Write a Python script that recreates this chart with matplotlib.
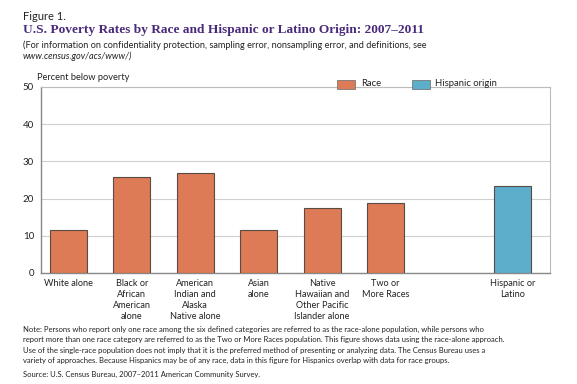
import matplotlib
matplotlib.use('Agg')
import matplotlib.pyplot as plt
import numpy as np

# data
categories = ['White alone', 'Black or\nAfrican\nAmerican\nalone', 'American\nIndian and\nAlaska\nNative alone',
              'Asian\nalone', 'Native\nHawaiian and\nOther Pacific\nIslander alone', 'Two or\nMore Races',
              'Hispanic or\nLatino']
rates = [11.6, 25.9, 27.0, 11.6, 17.6, 18.7, 23.3]
positions = [0, 1, 2, 3, 4, 5, 7]
groups = ['race', 'race', 'race', 'race', 'race', 'race', 'hispanic']

orange = '#dc7b55'
blue = '#5daecb'
purple = '#4a2a7a'

plt.rcParams['font.family'] = ['Lato', 'DejaVu Sans']

W, H = 577, 384
fig = plt.figure(figsize=(W / 100, H / 100), dpi=100)

def fx(px):
    return px / W

def fy(py):
    return 1 - py / H

# axes in pixel coords: left 41, right 550, top 87, bottom 273
ax = fig.add_axes([fx(41), fy(273), fx(550) - fx(41), fy(87) - fy(273)])

colors = [orange if g == 'race' else blue for g in groups]
ax.bar(positions, rates, width=0.58, color=colors, edgecolor='#5a4a45', linewidth=0.8, zorder=3)

ax.set_xlim(-0.43, 7.59)
ax.set_ylim(0, 50)
ax.set_yticks([0, 10, 20, 30, 40, 50])
ax.yaxis.grid(True, color='#d0d0d0', linewidth=0.8, zorder=0)
ax.set_xticks(positions)
ax.set_xticklabels(categories, fontsize=6.6, linespacing=1.3, va='top', color='#222222')
ax.tick_params(axis='x', length=0, pad=4)
ax.tick_params(axis='y', length=0, pad=5, labelsize=7, labelcolor='#222222')

for s in ['left', 'bottom']:
    ax.spines[s].set_color('#888888')
    ax.spines[s].set_linewidth(1.0)
for s in ['top', 'right']:
    ax.spines[s].set_color('#bbbbbb')
    ax.spines[s].set_linewidth(0.8)

# header texts
fig.text(fx(23), fy(16), 'Figure 1.', fontsize=8, va='center', ha='left', color='#222222')
fig.text(fx(23), fy(30), 'U.S. Poverty Rates by Race and Hispanic or Latino Origin: 2007\u20132011',
         fontsize=9.6, fontweight='bold', family='Liberation Serif', color=purple, va='center', ha='left')
fig.text(fx(23), fy(45), '(For information on confidentiality protection, sampling error, nonsampling error, and definitions, see',
         fontsize=6.6, va='center', ha='left', color='#222222')
fig.text(fx(23), fy(56), 'www.census.gov/acs/www/)', fontsize=6.6, style='italic', va='center', ha='left',
         color='#222222')
fig.text(fx(37), fy(77), 'Percent below poverty', fontsize=6.7, va='center', ha='left', color='#222222')

# legend
fig.patches.append(plt.Rectangle((fx(337), fy(89)), fx(18), fy(80) - fy(89), transform=fig.transFigure,
                                 facecolor=orange, edgecolor='#777777', linewidth=0.6))
fig.text(fx(361), fy(83), 'Race', fontsize=6.8, va='center', ha='left', color='#222222')
fig.patches.append(plt.Rectangle((fx(412), fy(89)), fx(18), fy(80) - fy(89), transform=fig.transFigure,
                                 facecolor=blue, edgecolor='#777777', linewidth=0.6))
fig.text(fx(435), fy(83), 'Hispanic origin', fontsize=6.8, va='center', ha='left', color='#222222')

# notes
note = ('Note: Persons who report only one race among the six defined categories are referred to as the race-alone population, while persons who\n'
        'report more than one race category are referred to as the Two or More Races population. This figure shows data using the race-alone approach.\n'
        'Use of the single-race population does not imply that it is the preferred method of presenting or analyzing data. The Census Bureau uses a\n'
        'variety of approaches. Because Hispanics may be of any race, data in this figure for Hispanics overlap with data for race groups.')
fig.text(fx(23), fy(326), note, fontsize=5.5, va='top', ha='left', linespacing=1.55, color='#222222')
fig.text(fx(23), fy(374), 'Source: U.S. Census Bureau, 2007\u20132011 American Community Survey.', fontsize=5.5,
         va='center', ha='left', color='#222222')

fig.savefig('out.png', dpi=100)
